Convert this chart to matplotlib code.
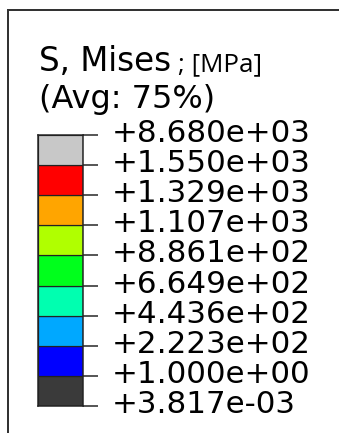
import matplotlib.pyplot as plt
from matplotlib.lines import Line2D

# contour legend data (bottom -> top)
bounds = [3.817e-03, 1.000e+00, 2.223e+02, 4.436e+02, 6.649e+02,
          8.861e+02, 1.107e+03, 1.329e+03, 1.550e+03, 8.680e+03]
colors = ['#3a3a3a', '#0000ff', '#00a8ff', '#00ffb0', '#00ff1c',
          '#b0ff00', '#ffa500', '#ff0000', '#c8c8c8']
title = "S, Mises"
unit = "; [MPa]"
subtitle = "(Avg: 75%)"

W, H = 339, 433
fig = plt.figure(figsize=(W / 72, H / 72), dpi=72)
fig.patch.set_facecolor('white')

# background axes in pixel coords
bg = fig.add_axes([0, 0, 1, 1])
bg.set_xlim(0, W)
bg.set_ylim(H, 0)
bg.axis('off')

# frame (cut off at right / bottom)
frame_kw = dict(color='#333333', linewidth=2, solid_capstyle='butt')
bg.add_line(Line2D([8, W + 5], [10, 10], **frame_kw))
bg.add_line(Line2D([8, 8], [9, H + 5], **frame_kw))

# titles
t = bg.text(39, 71, title, fontsize=32.5, family='DejaVu Sans',
            va='baseline', ha='left', color='#000000')
bg.annotate(unit, xy=(1, 71), xycoords=(t, bg.transData),
            xytext=(7, 0), textcoords='offset points',
            fontsize=26, family='Open Sans', va='baseline', ha='left',
            color='#000000')
bg.text(39, 108, subtitle, fontsize=32, family='DejaVu Sans',
        va='baseline', ha='left', color='#000000')

# colour bar
ax = fig.add_axes([38 / W, 1 - 406 / H, 45 / W, 271 / H])
for i, c in enumerate(colors):
    ax.bar(0, 1, bottom=i, width=1, color=c, edgecolor='#222222',
           linewidth=1.2)
ax.set_xlim(-0.5, 0.5)
ax.set_ylim(0, len(colors))
ax.set_xticks([])
ax.yaxis.tick_right()
ax.set_yticks(range(len(bounds)))
ax.set_yticklabels([])
ax.tick_params(axis='y', length=15, width=1.5, color='#222222')
for s in ax.spines.values():
    s.set_linewidth(1.5)
    s.set_color('#222222')

for i, v in enumerate(bounds):
    ax.annotate('{:+.3e}'.format(v), xy=(1, i),
                xycoords=('axes fraction', 'data'),
                xytext=(29, -7), textcoords='offset points',
                fontsize=31, family='DejaVu Sans', va='baseline',
                ha='left', color='#000000', annotation_clip=False)

fig.savefig('out.png', dpi=72)
